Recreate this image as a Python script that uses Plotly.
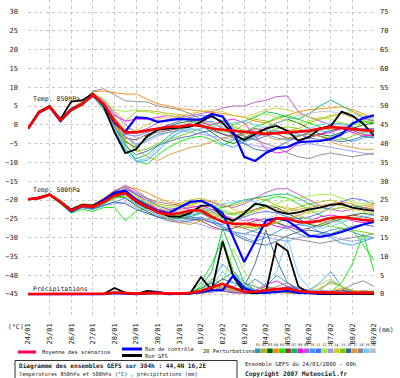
import plotly.graph_objects as go

# ---------------- data ----------------
STEP_HOURS = list(range(0, 385, 12))          # forecast steps (h) from 24/01/2008 00h
DATE_LABELS = ["24/01", "25/01", "26/01", "27/01", "28/01", "29/01", "30/01", "31/01",
               "01/02", "02/02", "03/02", "04/02", "05/02", "06/02", "07/02", "08/02", "09/02"]
MEMBER_IDS = ["01", "02", "03", "04", "05", "06", "07", "08", "09", "10",
              "11", "12", "13", "14", "15", "16", "17", "18", "19", "20"]
MEMBER_COLORS = ["#3399aa", "#b5b500", "#006600", "#ff8800", "#00ee00", "#993333", "#00bb55",
                 "#ff00ff", "#bb55cc", "#3399ff", "#5566ff", "#99ee33", "#9999ff", "#cccc33",
                 "#77cc00", "#336699", "#dd9933", "#888888", "#66ccff", "#bbbbcc"]

# Temperature 850 hPa (degC)
T850_MEAN = [-1.0, 3.3, 4.8, 1.2, 4.0, 5.5, 8.0, 5.5, 1.0, -2.0, -2.0,
             -1.5, -0.8, -0.5, -0.5, 0.0, -0.3, -1.0, -1.3, -1.6, -1.8, -2.2,
             -2.4, -2.2, -2.0, -1.9, -1.6, -1.0, -0.6, -0.8, -1.2, -1.4, -1.6]
T850_CTRL = [-1.0, 3.2, 4.8, 1.0, 4.2, 5.5, 7.8, 5.5, 0.5, -1.8, 2.0,
             1.8, 0.8, 1.2, 1.6, 1.4, 1.4, 2.9, 2.2, -2.0, -8.5, -9.6,
             -7.5, -6.2, -5.9, -4.6, -4.5, -4.3, -3.8, -2.5, 0.3, 1.8, 2.5]
T850_GFS = [-1.0, 3.5, 5.0, 1.5, 6.2, 6.5, 8.3, 5.0, -2.0, -7.5, -6.5,
            -3.0, -1.3, -1.0, -0.8, -0.5, 0.8, 2.4, 0.5, -2.5, -4.0, -2.5,
            -1.0, -0.3, -1.6, -4.2, -3.2, -1.0, -0.3, 3.5, 2.4, 0.3, -2.9]
T850_PERTS = [
    [-1.2, 3.0, 4.6, 0.8, 3.8, 5.4, 7.9, 6.0, 2.0, -3.0, -5.5,
     -4.0, -2.5, -2.0, -1.5, -0.5, 0.5, 1.0, -1.0, -3.0, -4.5, -3.5,
     -2.0, -1.5, -2.5, -3.0, -2.0, -1.0, 0.0, 0.5, -0.5, -1.5, -2.0],
    [-1.0, 3.4, 4.9, 1.4, 4.2, 5.8, 8.3, 6.5, 3.5, 1.0, 3.5,
     3.8, 3.5, 3.0, 2.8, 2.0, 1.0, -0.5, -2.0, -1.5, 0.0, 1.5,
     1.0, -0.5, -1.5, -1.0, 0.5, 1.5, 2.5, 3.0, 2.0, 1.0, 0.5],
    [-0.9, 3.5, 5.0, 1.0, 4.1, 5.6, 8.0, 5.0, -0.5, -4.5, -6.0,
     -3.5, -1.5, -0.5, 0.5, 1.0, 0.0, -2.0, -4.0, -5.0, -3.5, -2.0,
     -1.0, 0.5, 1.5, 0.5, -1.0, -2.5, -3.0, -2.0, -1.0, 0.0, 0.5],
    [-1.0, 3.6, 5.2, 1.8, 4.5, 6.2, 8.8, 9.0, 8.5, 8.2, 8.2,
     7.0, 5.6, 5.0, 4.3, 4.0, 3.7, 3.5, 3.0, 2.5, 2.0, 1.0,
     0.5, 1.5, 2.5, 3.5, 4.0, 4.3, 4.5, 4.8, 4.0, 3.0, 1.5],
    [-1.1, 3.2, 4.7, 1.0, 3.9, 5.5, 8.1, 6.0, 1.5, -5.0, -9.5,
     -10.5, -8.0, -6.0, -4.5, -3.5, -3.0, -4.0, -5.5, -4.0, -2.0, -0.5,
     0.5, 2.0, 2.5, 1.5, 0.5, -0.5, -1.5, -1.0, 0.0, 1.0, 0.5],
    [-1.0, 3.3, 4.8, 1.3, 4.0, 5.5, 7.8, 5.2, 0.5, -3.5, -4.0,
     -2.5, -2.0, -1.5, -1.0, -0.5, 0.0, -1.0, -2.5, -3.0, -2.0, -1.0,
     -1.5, -2.5, -3.5, -4.0, -3.5, -2.5, -1.5, -1.0, -1.5, -2.5, -3.0],
    [-1.0, 3.1, 4.5, 0.7, 3.6, 5.2, 7.6, 4.0, -1.5, -6.5, -9.0,
     -8.0, -5.5, -3.0, -1.0, 0.5, 1.5, 2.0, 1.0, 0.0, 1.0, 2.0,
     3.5, 3.0, 2.0, 1.5, 3.0, 5.0, 6.6, 5.0, 3.5, 2.0, 1.0],
    [-1.0, 3.4, 4.9, 1.1, 4.0, 5.6, 8.2, 6.0, 2.5, 1.0, 1.5,
     1.5, 2.0, 2.5, 2.0, 1.5, 0.5, 0.0, 1.0, 1.5, 0.5, -3.0,
     -6.5, -7.5, -7.0, -5.0, -3.0, -2.5, -2.0, -1.0, -2.0, -3.0, -2.5],
    [-1.0, 3.3, 4.7, 1.2, 4.1, 5.7, 8.4, 6.5, 3.0, 0.0, -2.0,
     -1.0, 0.5, 1.5, 2.0, 2.5, 3.0, 3.5, 4.5, 5.0, 5.0, 6.0,
     6.5, 7.5, 7.7, 3.5, 2.0, 1.0, 0.0, -1.0, 0.5, 1.5, 1.0],
    [-1.0, 3.2, 4.7, 0.9, 3.9, 5.3, 7.7, 4.5, -1.0, -7.0, -9.8,
     -9.5, -7.0, -4.0, -2.0, -1.0, -1.5, -3.0, -5.0, -6.0, -4.5, -3.0,
     -2.5, -3.5, -4.0, -3.0, -2.0, -1.5, -2.0, -3.5, -4.5, -3.5, -3.0],
    [-1.0, 3.3, 4.8, 1.2, 4.0, 5.5, 8.0, 5.5, 1.0, -2.5, -3.0,
     -2.0, -1.0, 0.0, 1.0, 2.0, 2.5, 2.0, 1.0, -1.0, -3.0, -4.0,
     -3.0, -2.0, -1.5, -2.5, -3.5, -4.0, -3.5, -2.5, -1.5, -1.0, -1.0],
    [-1.0, 3.4, 5.0, 1.5, 4.3, 5.8, 8.5, 7.0, 4.0, 3.5, 4.0,
     3.5, 3.0, 2.5, 2.0, 1.5, 0.5, -1.0, -1.5, 0.0, 1.0, 2.5,
     3.0, 2.0, 1.0, 0.5, 1.0, 2.0, 1.5, 0.5, 0.0, 0.5, 1.0],
    [-1.0, 3.2, 4.8, 1.0, 4.0, 5.4, 7.9, 5.0, 0.0, -3.0, -5.0,
     -4.5, -3.0, -2.0, -1.5, -2.0, -2.5, -3.0, -3.5, -4.0, -5.0, -5.5,
     -6.0, -6.5, -6.0, -5.5, -5.0, -5.5, -6.0, -6.5, -7.0, -7.5, -8.0],
    [-1.0, 3.3, 4.9, 1.3, 4.1, 5.6, 8.1, 5.8, 2.0, -1.0, -1.5,
     0.0, 1.5, 2.0, 2.5, 3.0, 3.5, 4.0, 3.5, 2.5, 2.0, 3.0,
     4.0, 4.5, 4.0, 3.0, 2.0, 1.5, 2.0, 3.0, 3.5, 2.5, 2.0],
    [-1.0, 3.4, 4.9, 1.2, 4.0, 5.6, 8.1, 5.0, 0.0, -4.0, -7.0,
     -6.5, -5.0, -4.0, -3.0, -2.0, -1.0, 0.0, 0.5, -0.5, -1.5, -2.5,
     -2.0, -1.0, -0.5, -1.0, -2.0, -3.0, -3.5, -4.0, -3.0, -2.0, -1.5],
    [-1.0, 3.1, 4.6, 0.8, 3.7, 5.3, 7.7, 4.5, -0.5, -5.5, -8.0,
     -7.0, -5.5, -4.5, -3.5, -3.0, -2.0, -1.5, -2.5, -3.5, -5.0, -6.5,
     -7.0, -6.0, -4.5, -3.0, -2.5, -3.0, -4.0, -4.5, -4.0, -3.0, -3.5],
    [-1.0, 3.3, 4.8, 1.1, 4.0, 5.5, 8.0, 5.0, -0.5, -4.0, -6.5,
     -8.5, -9.5, -8.0, -7.0, -6.0, -5.5, -4.5, -3.5, -3.0, -2.5, -2.0,
     -3.0, -4.0, -3.5, -3.0, -2.5, -3.0, -4.5, -5.5, -6.0, -6.5, -6.5],
    [-1.0, 3.5, 5.0, 1.6, 4.4, 6.0, 9.0, 9.6, 8.0, 6.4, 6.2,
     6.1, 5.0, 4.5, 4.0, 3.0, 1.5, 0.5, -1.0, -2.5, -3.0, -4.0,
     -5.0, -6.0, -7.5, -8.5, -9.0, -8.0, -7.5, -8.0, -8.5, -8.0, -7.5],
    [-1.0, 3.2, 4.7, 1.0, 3.9, 5.4, 7.8, 4.5, -1.0, -6.0, -9.5,
     -9.0, -6.0, -3.5, -2.0, -1.5, -1.0, -0.5, 0.0, 0.5, 1.0, 0.0,
     -1.0, -2.0, -2.5, -2.0, -1.0, 0.0, 0.5, 0.0, -1.0, -2.0, -2.5],
    [-1.0, 3.3, 4.8, 1.2, 4.0, 5.6, 8.1, 6.0, 2.0, -2.0, -3.5,
     -3.0, -2.0, -1.0, 0.0, 0.5, 1.0, 0.5, -0.5, -1.5, -2.0, -1.5,
     -0.5, 0.5, 1.5, 2.5, 3.0, 3.5, 3.5, 3.0, 2.5, 2.0, 1.5],
]

# Temperature 500 hPa (degC)
T500_MEAN = [-19.8, -19.5, -18.6, -20.5, -22.8, -21.5, -21.8, -20.5, -18.8, -18.2, -20.3,
             -21.8, -23.3, -23.8, -23.5, -22.8, -22.8, -24.5, -25.8, -26.3, -26.3, -26.6,
             -26.8, -24.8, -25.0, -25.8, -26.0, -25.5, -24.8, -24.5, -25.0, -25.3, -25.5]
T500_CTRL = [-19.8, -19.5, -18.6, -20.5, -23.0, -21.5, -21.8, -20.0, -18.0, -17.5, -20.0,
             -21.5, -23.0, -23.5, -22.0, -20.5, -20.2, -21.5, -23.5, -30.0, -36.5, -31.0,
             -25.5, -24.8, -25.5, -27.5, -29.5, -29.8, -29.3, -28.5, -27.5, -26.5, -25.8]
T500_GFS = [-19.8, -19.3, -18.5, -20.5, -22.5, -21.3, -21.5, -20.0, -18.5, -17.8, -20.5,
            -22.0, -23.0, -24.3, -24.5, -23.5, -21.5, -21.5, -24.5, -25.5, -23.5, -21.0,
            -21.5, -23.0, -23.7, -23.3, -22.5, -22.0, -21.3, -21.0, -22.0, -22.5, -22.9]
T500_PERTS = [
    [-19.8, -19.6, -18.7, -20.8, -23.2, -21.8, -22.0, -21.0, -19.5, -18.5, -20.0,
     -21.5, -23.0, -24.5, -25.0, -24.0, -23.5, -25.0, -27.0, -28.5, -29.0, -28.0,
     -27.0, -26.0, -27.5, -29.0, -30.0, -29.0, -28.0, -27.5, -28.5, -29.5, -30.0],
    [-19.7, -19.4, -18.5, -20.3, -22.5, -21.2, -21.5, -20.0, -18.0, -17.0, -18.5,
     -19.5, -21.0, -21.5, -21.0, -20.0, -19.5, -20.5, -22.0, -21.5, -20.5, -19.5,
     -20.0, -21.5, -22.5, -22.0, -21.0, -20.5, -20.0, -21.0, -22.0, -21.5, -21.0],
    [-19.8, -19.5, -18.6, -20.6, -23.0, -21.6, -21.9, -20.5, -19.0, -19.5, -21.5,
     -23.0, -24.5, -25.0, -24.0, -23.0, -22.0, -23.0, -24.5, -25.5, -24.0, -22.5,
     -21.5, -22.0, -23.5, -25.0, -26.5, -27.0, -26.0, -25.0, -24.0, -23.5, -24.0],
    [-19.8, -19.4, -18.4, -20.2, -22.4, -21.0, -21.2, -19.5, -17.5, -16.5, -17.0,
     -18.0, -19.5, -20.5, -21.0, -21.5, -22.0, -24.0, -26.0, -27.0, -27.5, -27.0,
     -26.5, -26.0, -25.0, -24.0, -23.0, -22.0, -21.0, -20.5, -21.0, -22.0, -21.5],
    [-19.8, -19.6, -18.8, -21.0, -23.5, -22.5, -23.0, -22.0, -22.0, -25.5, -23.0,
     -22.0, -22.5, -23.0, -22.0, -21.0, -20.5, -21.5, -23.0, -24.0, -23.0, -21.5,
     -20.0, -19.0, -19.5, -21.0, -22.5, -24.0, -25.0, -26.0, -28.0, -32.0, -36.0],
    [-19.8, -19.5, -18.7, -20.5, -22.7, -21.5, -21.7, -20.3, -18.5, -17.5, -19.5,
     -21.0, -22.5, -23.5, -24.5, -25.0, -25.5, -27.0, -28.0, -27.5, -26.5, -25.5,
     -25.0, -26.0, -27.0, -28.0, -27.5, -26.5, -25.5, -24.5, -24.0, -24.5, -25.0],
    [-19.8, -19.5, -18.6, -20.7, -23.0, -21.8, -22.2, -21.0, -19.5, -18.5, -19.5,
     -21.0, -23.0, -24.5, -25.0, -24.5, -23.5, -22.5, -22.0, -21.0, -20.0, -19.5,
     -19.0, -18.5, -18.4, -19.5, -21.0, -22.0, -22.5, -22.0, -21.5, -22.0, -22.5],
    [-19.8, -19.4, -18.5, -20.4, -22.6, -21.3, -21.6, -20.0, -17.5, -16.5, -18.5,
     -20.5, -22.5, -23.0, -22.5, -22.0, -21.5, -22.5, -24.0, -25.0, -25.5, -25.0,
     -26.0, -27.0, -27.5, -26.5, -25.5, -24.5, -24.0, -24.5, -25.5, -26.0, -25.5],
    [-19.8, -19.5, -18.6, -20.5, -22.8, -21.4, -21.6, -20.2, -18.0, -16.0, -17.5,
     -19.5, -21.5, -22.5, -22.0, -21.0, -20.0, -20.5, -21.5, -22.0, -21.0, -19.5,
     -18.0, -17.0, -17.0, -18.5, -20.0, -21.5, -22.5, -23.0, -22.5, -22.0, -22.5],
    [-19.8, -19.6, -18.8, -20.8, -23.3, -22.0, -22.5, -21.5, -20.5, -19.5, -21.0,
     -22.5, -24.0, -25.0, -25.5, -25.0, -24.5, -25.5, -27.0, -28.5, -30.0, -31.0,
     -30.0, -28.5, -27.0, -26.5, -27.0, -28.5, -30.0, -31.5, -32.0, -31.0, -30.0],
    [-19.8, -19.5, -18.6, -20.6, -22.9, -21.6, -21.8, -20.5, -18.5, -17.0, -18.5,
     -20.0, -21.5, -22.5, -23.5, -24.5, -25.0, -26.0, -26.5, -25.5, -24.5, -23.5,
     -23.0, -23.5, -24.5, -25.0, -24.5, -23.5, -22.0, -20.5, -19.5, -20.0, -21.0],
    [-19.8, -19.4, -18.5, -20.4, -22.6, -21.3, -21.6, -20.0, -18.0, -17.5, -19.0,
     -20.5, -21.5, -22.0, -21.5, -21.0, -20.5, -21.0, -22.5, -23.5, -24.0, -23.0,
     -22.0, -21.0, -20.0, -19.5, -19.0, -18.5, -18.5, -19.5, -20.5, -21.0, -20.5],
    [-19.8, -19.5, -18.7, -20.6, -23.0, -22.0, -22.5, -21.5, -21.0, -20.5, -22.0,
     -23.5, -24.5, -25.0, -25.5, -26.0, -26.5, -27.5, -28.0, -28.5, -29.0, -29.5,
     -30.0, -30.5, -31.0, -30.0, -29.5, -29.0, -29.5, -30.5, -31.0, -30.5, -30.0],
    [-19.8, -19.5, -18.6, -20.5, -22.8, -21.5, -21.7, -20.2, -18.5, -17.5, -19.0,
     -20.5, -22.0, -23.0, -22.5, -21.5, -20.5, -20.0, -21.0, -22.5, -23.5, -23.0,
     -22.0, -21.5, -22.0, -23.0, -23.5, -23.0, -22.5, -22.0, -22.5, -23.0, -23.5],
    [-19.8, -19.5, -18.6, -20.6, -22.9, -21.7, -22.0, -20.8, -19.5, -19.0, -20.5,
     -22.0, -23.5, -24.5, -24.0, -23.0, -22.5, -23.5, -25.0, -26.0, -27.0, -27.5,
     -27.0, -26.0, -25.0, -24.5, -25.0, -26.0, -27.0, -27.5, -28.0, -28.5, -29.0],
    [-19.8, -19.6, -18.7, -20.7, -23.1, -22.0, -22.3, -21.5, -20.5, -21.0, -22.5,
     -23.5, -24.5, -25.5, -26.0, -25.5, -25.0, -26.0, -27.5, -29.0, -30.5, -31.5,
     -32.0, -31.0, -29.5, -28.5, -28.0, -28.5, -29.0, -28.0, -27.0, -26.5, -27.0],
    [-19.8, -19.5, -18.6, -20.5, -22.8, -21.4, -21.7, -20.3, -18.5, -18.0, -20.0,
     -22.0, -23.5, -25.0, -26.0, -26.5, -25.5, -24.5, -24.0, -23.5, -23.0, -22.5,
     -22.0, -22.5, -23.0, -22.5, -22.0, -21.5, -21.0, -21.5, -22.0, -22.5, -22.0],
    [-19.8, -19.4, -18.5, -20.3, -22.5, -21.2, -21.4, -19.8, -17.5, -16.5, -18.0,
     -19.5, -20.5, -21.0, -21.5, -22.5, -23.5, -24.5, -25.5, -26.5, -27.5, -28.5,
     -29.0, -29.5, -30.0, -30.5, -31.0, -31.5, -31.0, -30.5, -30.0, -29.5, -29.0],
    [-19.8, -19.5, -18.6, -20.6, -22.9, -21.6, -21.9, -20.6, -19.0, -18.5, -20.0,
     -21.5, -23.0, -24.0, -24.5, -24.0, -23.0, -22.0, -21.0, -20.5, -20.0, -20.5,
     -21.5, -23.0, -24.5, -26.0, -27.0, -27.5, -27.0, -26.0, -25.0, -24.5, -24.0],
    [-19.8, -19.5, -18.6, -20.5, -22.8, -21.5, -21.8, -20.4, -18.7, -18.3, -20.0,
     -21.5, -23.0, -23.5, -23.0, -22.5, -22.0, -23.0, -24.5, -25.0, -25.5, -26.0,
     -25.0, -24.0, -23.5, -24.0, -25.0, -25.5, -26.0, -25.5, -25.0, -24.0, -23.5],
]

# Precipitation (mm)
PRECIP_MEAN = [0, 0, 0, 0.1, 0.1, 0, 0, 0.1, 0.4, 0.2, 0.1,
               0.3, 0.2, 0.1, 0.1, 0.3, 0.8, 1.8, 2.7, 1.6, 0.6, 0.6,
               1.0, 1.3, 1.5, 0.8, 0.5, 0.4, 0.4, 0.3, 0.3, 0.3, 0.3]
PRECIP_CTRL = [0, 0, 0, 0, 0, 0, 0, 0, 0.3, 0.1, 0,
               0.2, 0.5, 0, 0, 0.2, 0.5, 1.0, 1.0, 5.0, 1.5, 0.5,
               0.3, 0.5, 0.8, 0.3, 0.2, 0.2, 0.3, 0.2, 0.2, 0.3, 0.3]
PRECIP_GFS = [0, 0, 0, 0, 0, 0, 0, 0, 1.6, 0.3, 0,
              0.8, 0.6, 0, 0, 0.2, 4.5, 1.0, 14.0, 4.5, 0.5, 0.2,
              0.5, 13.5, 11.5, 2.0, 0.3, 0, 0, 0, 0, 0, 0]
PRECIP_PERTS = [
    [0, 0, 0, 0, 0, 0, 0, 0, 0.3, 0.2, 0,
     0.5, 0.3, 0, 0, 0.2, 0.8, 2.0, 4.0, 6.0, 3.0, 1.0,
     2.0, 5.0, 3.0, 1.0, 0.5, 1.0, 3.5, 2.0, 0.5, 0.3, 0.5],
    [0, 0, 0, 0, 0, 0, 0, 0, 0.2, 0, 0,
     0, 0.2, 0, 0, 0, 0.3, 1.0, 2.5, 1.0, 0.3, 0.5,
     1.5, 0.8, 0.3, 0.2, 0.5, 1.5, 3.0, 2.0, 0.8, 0.3, 0.2],
    [0, 0, 0, 0, 0, 0, 0, 0, 0.5, 0.3, 0.2,
     0.4, 0.2, 0, 0, 0.5, 1.5, 3.0, 1.5, 0.5, 0.3, 0.2,
     0.5, 1.0, 0.5, 0.3, 0.2, 0.2, 0.5, 1.0, 0.5, 0.3, 0.2],
    [0, 0, 0, 0, 0, 0, 0, 0, 0.1, 0, 0,
     0, 0, 0, 0, 0, 0.2, 0.5, 1.5, 1.0, 0.5, 1.0,
     2.0, 1.5, 0.8, 0.5, 0.3, 0.5, 0.8, 1.5, 1.0, 0.5, 0.3],
    [0, 0, 0, 0, 0, 0, 0, 0, 0.3, 0.5, 0.3,
     0.2, 0.1, 0, 0, 0.5, 3.0, 8.0, 14.5, 6.0, 2.0, 1.0,
     0.5, 0.3, 0.5, 1.0, 0.5, 0.3, 0.5, 3.0, 8.0, 16.0, 6.0],
    [0, 0, 0, 0, 0, 0, 0, 0, 0.2, 0.1, 0,
     0.2, 0.2, 0, 0, 0.2, 0.5, 1.0, 0.8, 0.3, 0.2, 0.5,
     1.0, 0.5, 0.3, 0.2, 0.5, 0.8, 0.5, 0.3, 0.2, 0.5, 0.3],
    [0, 0, 0, 0, 0, 0, 0, 0, 0.4, 0.3, 0.2,
     0.5, 0.3, 0, 0, 0.3, 2.0, 6.0, 17.5, 10.0, 3.0, 1.0,
     0.5, 0.8, 2.0, 1.0, 0.5, 0.3, 0.2, 0.5, 1.0, 0.5, 0.3],
    [0, 0, 0, 0, 0, 0, 0, 0, 0.2, 0.1, 0,
     0, 0.1, 0, 0, 0.2, 0.5, 1.0, 2.0, 1.5, 0.5, 1.0,
     2.5, 3.5, 2.0, 1.5, 1.0, 0.5, 0.3, 0.2, 0.5, 0.8, 0.5],
    [0, 0, 0, 0, 0, 0, 0, 0, 0.1, 0, 0,
     0, 0, 0, 0, 0.1, 0.3, 0.5, 1.0, 0.5, 0.3, 0.5,
     1.0, 1.5, 1.0, 0.5, 0.3, 0.5, 0.3, 0.2, 0.3, 0.5, 0.3],
    [0, 0, 0, 0, 0, 0, 0, 0, 0.3, 0.3, 0.2,
     0.4, 0.3, 0, 0, 0.3, 1.0, 3.5, 8.0, 5.0, 2.0, 1.0,
     0.5, 1.0, 2.0, 1.5, 1.0, 3.0, 6.0, 2.0, 0.5, 0.3, 0.5],
    [0, 0, 0, 0, 0, 0, 0, 0, 0.2, 0.2, 0,
     0.3, 0.2, 0, 0, 0.2, 0.8, 2.0, 1.0, 0.5, 1.5, 4.0,
     2.0, 1.0, 0.5, 0.3, 0.5, 1.0, 0.5, 0.3, 0.2, 0.3, 0.5],
    [0, 0, 0, 0, 0, 0, 0, 0, 0.2, 0.1, 0,
     0.1, 0.1, 0, 0, 0.2, 0.5, 1.5, 3.0, 12.0, 6.0, 2.0,
     1.0, 0.5, 0.3, 0.2, 0.5, 1.0, 0.5, 0.3, 0.2, 0.5, 1.0],
    [0, 0, 0, 0, 0, 0, 0, 0, 0.2, 0.2, 0.1,
     0.2, 0.2, 0, 0, 0.2, 0.6, 1.0, 1.5, 1.0, 0.5, 0.8,
     1.2, 1.0, 0.6, 0.5, 0.8, 1.0, 0.8, 0.5, 0.5, 0.8, 0.6],
    [0, 0, 0, 0, 0, 0, 0, 0, 0.2, 0.1, 0,
     0.2, 0.1, 0, 0, 0.2, 0.5, 1.2, 2.0, 1.0, 0.5, 0.3,
     0.5, 1.0, 0.5, 0.3, 1.0, 2.5, 4.0, 2.0, 1.0, 0.5, 0.3],
    [0, 0, 0, 0, 0, 0, 0, 0, 0.3, 0.2, 0.1,
     0.3, 0.2, 0, 0, 0.3, 1.5, 4.0, 2.5, 1.0, 0.5, 0.3,
     0.5, 0.8, 0.5, 0.3, 0.2, 0.3, 0.5, 0.3, 0.2, 0.2, 0.3],
    [0, 0, 0, 0, 0, 0, 0, 0, 0.3, 0.3, 0.2,
     0.3, 0.2, 0, 0, 0.3, 0.8, 2.0, 4.0, 3.0, 2.0, 8.0,
     17.0, 9.0, 3.0, 1.0, 0.5, 0.3, 0.5, 1.0, 0.5, 0.3, 0.5],
    [0, 0, 0, 0, 0, 0, 0, 0, 0.2, 0.1, 0,
     0.2, 0.3, 0, 0, 0.2, 0.5, 1.0, 1.5, 0.8, 0.5, 0.3,
     0.5, 0.5, 0.3, 0.2, 0.3, 0.5, 0.3, 0.2, 0.5, 1.0, 0.5],
    [0, 0, 0, 0, 0, 0, 0, 0, 0.2, 0.1, 0,
     0.1, 0.1, 0, 0, 0.1, 0.3, 0.8, 1.5, 2.0, 3.0, 2.0,
     1.0, 2.0, 3.0, 1.5, 0.8, 0.5, 0.3, 1.0, 2.5, 3.5, 2.0],
    [0, 0, 0, 0, 0, 0, 0, 0, 0.2, 0.2, 0.1,
     0.2, 0.2, 0, 0, 0.2, 0.8, 2.5, 6.0, 3.0, 1.0, 0.5,
     3.0, 6.0, 15.0, 5.0, 1.5, 0.5, 0.3, 0.2, 0.3, 0.5, 0.3],
    [0, 0, 0, 0, 0, 0, 0, 0, 0.1, 0.1, 0,
     0.1, 0.1, 0, 0, 0.1, 0.3, 0.6, 1.0, 0.8, 0.5, 0.6,
     0.8, 1.0, 0.8, 0.5, 0.4, 0.5, 0.6, 0.5, 0.4, 0.5, 0.4],
]

for s in [T850_MEAN, T850_CTRL, T850_GFS, T500_MEAN, T500_CTRL, T500_GFS,
          PRECIP_MEAN, PRECIP_CTRL, PRECIP_GFS] + T850_PERTS + T500_PERTS + PRECIP_PERTS:
    assert len(s) == len(STEP_HOURS), len(s)

# ---------------- layout constants ----------------
W, H = 400, 378
ML, MR, MT, MB = 28, 26, 0, 60
PW, PH = W - ML - MR, H - MT - MB
PX_PER_UNIT = 3.76
Y_TOP = 33.2
Y_BOT = Y_TOP - PH / PX_PER_UNIT
PRECIP_OFFSET = 45  # right axis (mm) = left axis (degC) + 45

RED = "#ff0000"
BLUE = "#0000ff"
BLACK = "#000000"
TXT = "#222222"
GRID = "#c8c8c8"
MONO = "DejaVu Sans Mono, monospace"


def pxx(x):
    return (x - ML) / PW


def pxy(y):
    return (MT + PH - y) / PH


days = [h / 24 for h in STEP_HOURS]

fig = go.Figure()


def add_line(y, color, width, axis="y"):
    fig.add_trace(go.Scatter(x=days, y=y, mode="lines", yaxis=axis,
                             line=dict(color=color, width=width),
                             hoverinfo="skip", showlegend=False))


for i, col in enumerate(MEMBER_COLORS):
    add_line(T850_PERTS[i], col, 0.9)
    add_line(T500_PERTS[i], col, 0.9)
    add_line(PRECIP_PERTS[i], col, 0.9, "y2")

add_line(T850_GFS, BLACK, 1.8)
add_line(T500_GFS, BLACK, 1.8)
add_line(PRECIP_GFS, BLACK, 1.8, "y2")
add_line(T850_CTRL, BLUE, 2.2)
add_line(T500_CTRL, BLUE, 2.2)
add_line(PRECIP_CTRL, BLUE, 2.2, "y2")
add_line(T850_MEAN, RED, 2.6)
add_line(T500_MEAN, RED, 2.6)
add_line(PRECIP_MEAN, RED, 2.6, "y2")

fig.update_layout(
    width=W, height=H,
    margin=dict(l=ML, r=MR, t=MT, b=MB, pad=0, autoexpand=False),
    paper_bgcolor="white", plot_bgcolor="white",
    showlegend=False, hovermode=False,
    font=dict(family="DejaVu Sans, sans-serif", size=7, color=TXT),
    xaxis=dict(range=[0, 16], tickmode="array", tickvals=list(range(len(DATE_LABELS))),
               ticktext=DATE_LABELS, tickangle=-90, showgrid=True, gridcolor=GRID,
               griddash="dot", gridwidth=1, zeroline=False, showline=False, ticks="",
               automargin=False, ticklabelstandoff=3, tickfont=dict(size=7, family=MONO)),
    yaxis=dict(range=[Y_BOT, Y_TOP], tickmode="array", tickvals=list(range(-45, 31, 5)),
               showgrid=True, gridcolor=GRID, griddash="dot", gridwidth=1,
               zeroline=False, showline=False, ticks="", ticklabelstandoff=9,
               automargin=False, tickfont=dict(size=7, family=MONO)),
    yaxis2=dict(range=[Y_BOT + PRECIP_OFFSET, Y_TOP + PRECIP_OFFSET], overlaying="y",
                side="right", tickmode="array", tickvals=list(range(0, 76, 5)),
                showgrid=False, zeroline=False, showline=False, ticks="",
                automargin=False, ticklabelstandoff=5, tickfont=dict(size=7, family=MONO)),
)

ann = []


def text(x, y, s, size=6.5, bold=False, xanchor="left", family=MONO, color=TXT):
    ann.append(dict(x=pxx(x), y=pxy(y), xref="paper", yref="paper",
                    text=("<b>%s</b>" % s) if bold else s,
                    showarrow=False, xanchor=xanchor, yanchor="middle",
                    font=dict(size=size, family=family, color=color)))


text(31, 99, "Temp. 850hPa", 6.5)
text(31, 190, "Temp. 500hPa", 6.5)
text(31, 289, "Précipitations", 6.5)
text(16, 327, "(°C)", 6.5, xanchor="center")
text(386, 330, "(mm)", 6.5, xanchor="center")

# legend
shapes = []


def hline(x0, x1, y, color, width):
    shapes.append(dict(type="line", xref="paper", yref="paper", x0=pxx(x0), x1=pxx(x1),
                       y0=pxy(y), y1=pxy(y), line=dict(color=color, width=width)))


hline(18, 36, 352, "#ff0055", 3)
text(40, 352, "Moyenne des scénarios", 5.4)
hline(122, 142, 349, BLUE, 3)
text(143, 349, "Run de contrôle", 5.4)
hline(122, 142, 355.5, BLACK, 3)
text(143, 356, "Run GFS", 5.4)
text(201, 351, "20 Perturbations", 5.4)
for i, (mid, col) in enumerate(zip(MEMBER_IDS, MEMBER_COLORS)):
    x0 = 255 + i * 6.05
    shapes.append(dict(type="rect", xref="paper", yref="paper", x0=pxx(x0), x1=pxx(x0 + 5.6),
                       y0=pxy(353), y1=pxy(348.5), line=dict(width=0), fillcolor=col))
    text(x0 + 2.8, 345, mid, 3.6, xanchor="center")

# bottom caption box
shapes.append(dict(type="rect", xref="paper", yref="paper", x0=pxx(15), x1=pxx(237),
                   y0=pxy(360.5), y1=pxy(379), line=dict(color="#333333", width=1),
                   fillcolor="rgba(0,0,0,0)"))
text(17, 366, "Diagramme des ensembles GEFS sur 384h : 44,4N 16,2E", 6.1, bold=True)
text(17, 374, "Températures 850hPa et 500hPa (°C) , précipitations (mm)", 5.3)
text(243, 363.5, "Ensemble GEFS du 24/01/2008 - 00h", 5.6)
text(243, 373.5, "Copyright 2007 Meteociel.fr", 6.3, bold=True)

fig.update_layout(annotations=ann, shapes=shapes)
fig.write_html("out.html", config={"displayModeBar": False},
               post_script="document.body.style.margin='0px';document.body.style.overflow='hidden';")
